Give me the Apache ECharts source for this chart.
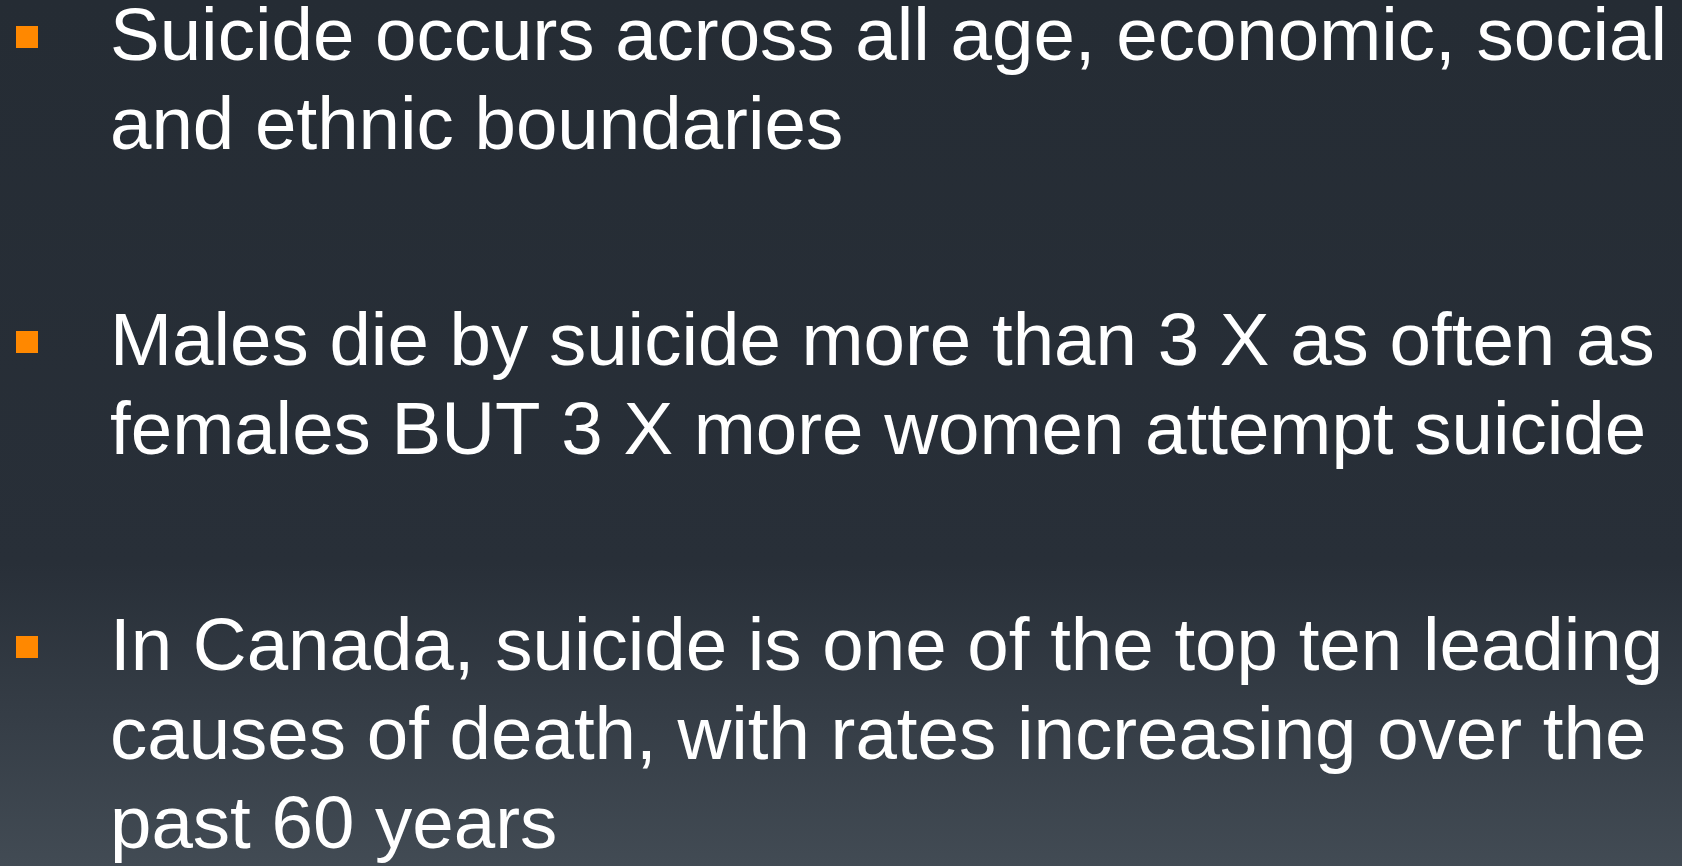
<!DOCTYPE html>
<html>
<head>
<meta charset="utf-8">
<script src="https://cdn.jsdelivr.net/npm/echarts@6/dist/echarts.min.js"></script>
<style>
  html, body { margin: 0; padding: 0; background: #252c34; }
  #slide { width: 1682px; height: 866px; }
</style>
</head>
<body>
<div id="slide"></div>
<script>
// bullet points, one array of wrapped lines each
const bullet1 = ['Suicide occurs across all age, economic, social', 'and ethnic boundaries'];
const bullet2 = ['Males die by suicide more than 3 X as often as', 'females BUT 3 X more women attempt suicide'];
const bullet3 = ['In Canada, suicide is one of the top ten leading', 'causes of death, with rates increasing over the', 'past 60 years'];
const bullets = [bullet1, bullet2, bullet3];

const chart = echarts.init(document.getElementById('slide'));

const fontSize = 74.5;
const lineHeight = 89;
const paraSpacing = 127;
const firstBaseline = 65;
const textLeft = 110;

const elements = [];
let baseline = firstBaseline;
bullets.forEach(function (lines) {
  // orange square marker
  elements.push({
    type: 'rect',
    shape: { x: 16, y: baseline - 39, width: 22, height: 22 },
    style: { fill: '#ff8800' }
  });
  lines.forEach(function (line, i) {
    elements.push({
      type: 'text',
      x: textLeft,
      y: baseline + i * lineHeight - 26,
      style: {
        text: line,
        fill: '#ffffff',
        font: fontSize + 'px "Liberation Sans", Arial, sans-serif',
        align: 'left',
        verticalAlign: 'middle'
      }
    });
  });
  baseline += lines.length * lineHeight + paraSpacing;
});

chart.setOption({
  backgroundColor: {
    type: 'linear', x: 0, y: 0, x2: 0, y2: 1,
    colorStops: [
      { offset: 0, color: '#252c34' },
      { offset: 0.65, color: '#282f38' },
      { offset: 1, color: '#424b54' }
    ]
  },
  animation: false,
  graphic: { elements: elements }
});
</script>
</body>
</html>
